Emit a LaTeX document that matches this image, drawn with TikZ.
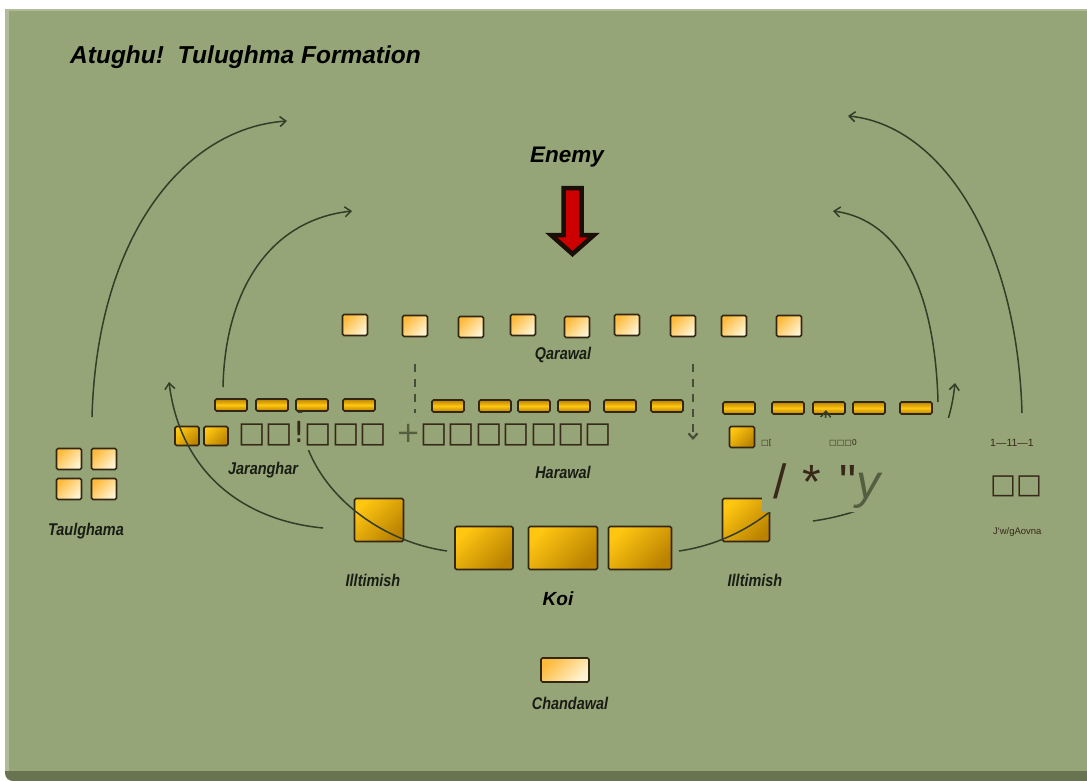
\documentclass[tikz,border=0pt]{standalone}
\usepackage{fontspec}
\usepackage{graphicx}
\setmainfont{Liberation Sans}
\newfontfamily\dvsans{DejaVu Sans}
\newfontfamily\plainsans[Ligatures=NoCommon]{Liberation Sans}
\usetikzlibrary{arrows.meta}
\definecolor{bggreen}{RGB}{150,165,119}
\definecolor{patchgreen}{RGB}{150,165,119}
\definecolor{panelshadow}{RGB}{104,116,80}
\definecolor{paleA}{RGB}{253,186,60}
\definecolor{paleB}{RGB}{255,245,212}
\definecolor{goldA}{RGB}{255,198,18}
\definecolor{goldB}{RGB}{186,130,0}
\definecolor{boxedge}{RGB}{50,38,20}
\definecolor{flowcol}{RGB}{50,62,40}
\definecolor{dashcol}{RGB}{68,78,56}
\definecolor{labeltext}{RGB}{25,28,20}
\definecolor{garbdark}{RGB}{55,40,25}
\definecolor{garbgreen}{RGB}{84,94,64}
\definecolor{enemyred}{RGB}{205,0,0}
\definecolor{arrowdark}{RGB}{25,15,8}
\begin{document}
\begin{tikzpicture}[x=1pt,y=-1pt,
  box/.style={draw=boxedge, line width=1.7pt, rounded corners=1.5pt, inner sep=0pt, outer sep=0pt},
  sz/.style 2 args={minimum width=#1pt, minimum height=#2pt},
  pale/.style={box, top color=paleA, bottom color=paleB, shading angle=45},
  gold/.style={box, top color=goldA, bottom color=goldB, shading angle=45},
  bar/.style={box, top color=goldB, bottom color=goldB, middle color=goldA, minimum width=32pt, minimum height=12pt},
  lbl/.style={font=\fontsize{17}{17}\selectfont\bfseries\itshape, text=labeltext, inner sep=0pt},
  ttl/.style={font=\bfseries\itshape, text=black, inner sep=0pt},
  flow/.style={draw=flowcol, line width=1.5pt, -{Straight Barb[length=6pt,width=10pt]}},
  dashline/.style={draw=dashcol, line width=2.2pt, dash pattern=on 8pt off 7pt},
  garb/.style={inner sep=0pt, text=garbdark}
]
\useasboundingbox (0,0) rectangle (1087,781);
% background and panel
\fill[white] (0,0) rectangle (1087,781);
\fill[panelshadow, rounded corners=8pt] (5,14) rectangle (1100,781);
\fill[bggreen!75!white] (5,9) rectangle (1087,771);
\fill[bggreen] (9,11) rectangle (1087,771);

% title and enemy
\node[ttl, font=\fontsize{24.5}{24.5}\selectfont\bfseries\itshape, anchor=base west] (title) at (70,64) {Atughu!\ \ Tulughma Formation};
\node[ttl, font=\fontsize{22.5}{22.5}\selectfont\bfseries\itshape, anchor=base west] (enemy) at (530,162) {Enemy};
\draw[line width=4.5pt, draw=arrowdark, fill=enemyred, line join=miter]
  (563.5,188) -- (581.5,188) -- (581.5,235) -- (594,235) -- (572.5,254) -- (551,235) -- (563.5,235) -- cycle;

% Qarawal
\foreach \i/\x/\y in {1/355/325,2/415/326,3/471/327,4/523/325,5/577/327,6/627/325,7/683/326,8/734/326,9/789/326}
  \node[pale, sz={25}{21}] (q\i) at (\x,\y) {};
\node[lbl] (qlab) at (563,355) {\scalebox{0.85}[1]{Qarawal}};

% bars
\foreach \i/\x in {1/231,2/272,3/312,4/359}
  \node[bar] (jb\i) at (\x,405) {};
\foreach \i/\x in {1/448,2/495,3/534,4/574,5/620,6/667}
  \node[bar] (hb\i) at (\x,406) {};
\foreach \i/\x in {1/739,2/788,3/829,4/869,5/916}
  \node[bar] (rb\i) at (\x,408) {};

% small gold squares
\node[gold, sz={24}{19}] (js1) at (187,436) {};
\node[gold, sz={24}{19}] (js2) at (216,436) {};
\node[gold, sz={25}{21}] (rs1) at (742,437) {};

% Illtimish and Koi
\node[gold, sz={49}{43}] (il1) at (379,520) {};
\node[gold, sz={47}{43}] (il2) at (746,520) {};
\node[gold, sz={58}{43}] (k1) at (484,548) {};
\node[gold, sz={69}{43}] (k2) at (563,548) {};
\node[gold, sz={63}{43}] (k3) at (640,548) {};

% Chandawal
\node[pale, sz={48}{24}] (ch) at (565,670) {};
% Taulghama
\node[pale, sz={25}{21}] (t1) at (69,459) {};
\node[pale, sz={25}{21}] (t2) at (104,459) {};
\node[pale, sz={25}{21}] (t3) at (69,489) {};
\node[pale, sz={25}{21}] (t4) at (104,489) {};

% labels
\node[lbl] (jlab) at (263,470) {\scalebox{0.85}[1]{Jaranghar}};
\node[lbl] (hlab) at (563,472) {\scalebox{0.85}[1]{Harawal}};
\node[lbl] (tlab) at (86,531) {\scalebox{0.85}[1]{Taulghama}};
\node[lbl] (il1lab) at (373,580) {\scalebox{0.85}[1]{Illtimish}};
\node[lbl] (il2lab) at (755,580) {\scalebox{0.85}[1]{Illtimish}};
\node[lbl] (chlab) at (570,703) {\scalebox{0.85}[1]{Chandawal}};
\node[ttl, font=\fontsize{19}{19}\selectfont\bfseries\itshape] (koilab) at (558,599) {Koi};

% flow coordinates
\coordinate (L1s) at (92,417);  \coordinate (L1e) at (287,121);
\coordinate (L2s) at (223,387); \coordinate (L2e) at (352,211);
\coordinate (R1s) at (1022,413); \coordinate (R1e) at (848,116);
\coordinate (R2s) at (938,402); \coordinate (R2e) at (833,211);
\coordinate (ALs) at (447,551); \coordinate (ALe) at (300,410);
\coordinate (ARs) at (679,551); \coordinate (ARe) at (826,410);
\coordinate (BLs) at (323,528); \coordinate (BLe) at (169,382);
\coordinate (BRs) at (813,521); \coordinate (BRe) at (955,383);

\draw[flow] (L1s) .. controls (97,235) and (185,128) .. (L1e);
\draw[flow] (L2s) .. controls (225,290) and (270,220) .. (L2e);
\draw[flow] (R1s) .. controls (1017,240) and (940,125) .. (R1e);
\draw[flow] (R2s) .. controls (935,290) and (900,220) .. (R2e);
\draw[flow] (ALs) .. controls (370,540) and (303,480) .. (ALe);
\draw[flow] (ARs) .. controls (756,540) and (823,480) .. (ARe);
\draw[flow] (BLs) .. controls (240,520) and (180,470) .. (BLe);
\draw[flow] (BRs) .. controls (890,510) and (946,470) .. (BRe);

% dashed
\coordinate (DLs) at (415,364); \coordinate (DLe) at (415,440);
\coordinate (DRs) at (693,364); \coordinate (DRe) at (693,440);
\draw[dashline] (DLs) -- (DLe);
\draw[dashline, -{Straight Barb[length=5pt,width=9pt]}] (DRs) -- (DRe);

% overlaid patches
\fill[patchgreen] (237,413) rectangle (668,450);
\fill[patchgreen] (762,418) -- (1058,418) -- (1058,548) -- (872,548) -- (872,512) -- (762,512) -- cycle;

% patch texts
\node[garb, anchor=west] (g1) at (238,434) {\resizebox{374pt}{!}{\dvsans □□!□□□ {\color{garbgreen}+}□□□□□□□}};
\node[garb, anchor=west, font=\dvsans\fontsize{8}{8}\selectfont] (g2) at (761,443) {□[};
\node[garb, anchor=west, font=\dvsans\fontsize{8}{8}\selectfont] (g3) at (829,443) {□□□0};
\node[garb, anchor=base west, font=\plainsans\fontsize{48}{48}\selectfont] (g4) at (773,498) {/\hspace{16pt}*\hspace{18pt}\char"0022{\color{garbgreen}\itshape y}};
\node[garb, anchor=west, font=\fontsize{10.5}{10.5}\selectfont] (g5) at (990,443) {1—11—1};
\node[garb, anchor=west] (g6) at (990,486) {\resizebox{52pt}{!}{\dvsans □□}};
\node[garb, anchor=west, font=\plainsans\fontsize{9.5}{9.5}\selectfont] (g7) at (993,532) {J\char"0027w/gAovna};
\end{tikzpicture}
\end{document}
